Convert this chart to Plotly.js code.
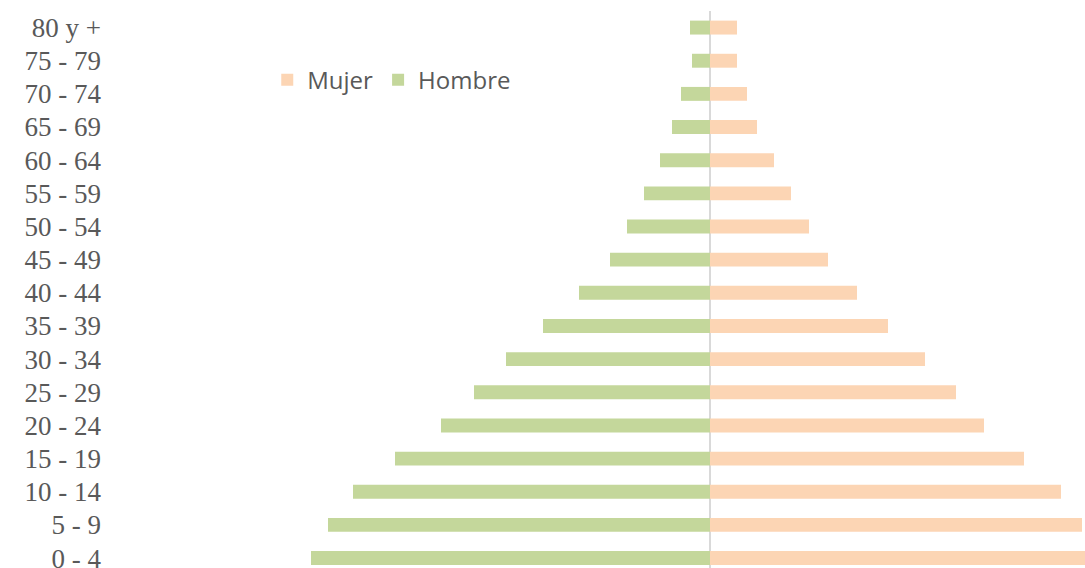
<!DOCTYPE html>
<html>
<head>
<meta charset="utf-8">
<script src="https://cdn.plot.ly/plotly-3.0.1.min.js"></script>
<style>html,body{margin:0;padding:0;background:#fff;}#chart{width:1085px;height:568px;}</style>
</head>
<body>
<div id="chart"></div>
<script>
const ageGroups = ["0 - 4","5 - 9","10 - 14","15 - 19","20 - 24","25 - 29","30 - 34","35 - 39","40 - 44","45 - 49","50 - 54","55 - 59","60 - 64","65 - 69","70 - 74","75 - 79","80 y +"];
const hombre = [399, 382, 357, 315, 269, 236, 204, 167, 131, 100, 83, 66, 50, 38, 29, 18, 20];
const mujer  = [385, 372, 351, 314, 274, 246, 215, 178, 147, 118, 99, 81, 64, 47, 37, 27, 27];

const traces = [
  {
    type: 'bar', orientation: 'h', name: 'Mujer',
    y: ageGroups, x: mujer,
    marker: {color: '#fcd5b4'},
    hoverinfo: 'x+y'
  },
  {
    type: 'bar', orientation: 'h', name: 'Hombre',
    y: ageGroups, x: hombre.map(v => -v),
    marker: {color: '#c4d79b'},
    hoverinfo: 'x+y'
  }
];

const layout = {
  width: 1085, height: 568,
  margin: {l: 108, r: 0, t: 11, b: 0},
  paper_bgcolor: '#ffffff', plot_bgcolor: '#ffffff',
  barmode: 'overlay',
  bargap: 0.58,
  showlegend: true,
  legend: {
    orientation: 'h', x: 0.163, y: 0.876, xanchor: 'left', yanchor: 'middle',
    font: {family: 'Open Sans, sans-serif', size: 24, color: '#595959'},
    itemwidth: 30, bgcolor: 'rgba(0,0,0,0)'
  },
  xaxis: {
    range: [-602, 375], showticklabels: false, showgrid: false,
    zeroline: true, zerolinecolor: '#d9d9d9', zerolinewidth: 2,
    layer: 'above traces', fixedrange: true
  },
  yaxis: {
    type: 'category', categoryorder: 'array', categoryarray: ageGroups,
    range: [-0.3, 16.5], showgrid: false, zeroline: false, ticks: '',
    ticklabelstandoff: 6,
    tickfont: {family: 'Liberation Serif, serif', size: 27, color: '#595959'},
    fixedrange: true
  }
};

Plotly.newPlot('chart', traces, layout, {displayModeBar: false, staticPlot: true});
</script>
</body>
</html>
